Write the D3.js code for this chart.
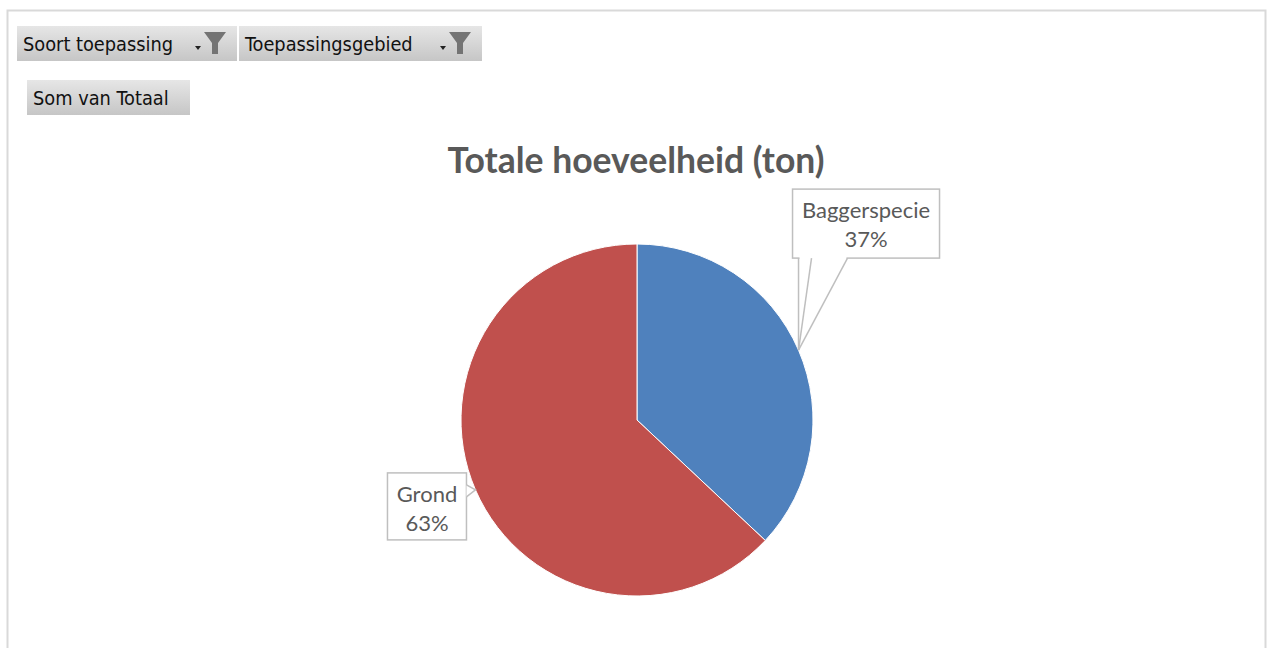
<!DOCTYPE html>
<html><head><meta charset="utf-8">
<script src="https://cdn.jsdelivr.net/npm/d3@7"></script>
<style>body{margin:0;background:#fff;} svg{display:block;}</style>
</head><body>
<svg id="c" width="1268" height="648"></svg>
<script>
const categories = ["Baggerspecie", "Grond"];
const values = [37, 63];
const colors = ["#4F81BD", "#C0504D"];
const title = "Totale hoeveelheid (ton)";
const filterButtons = ["Soort toepassing", "Toepassingsgebied"];
const valueButton = "Som van Totaal";

const svg = d3.select("#c");
const defs = svg.append("defs");
const g1 = defs.append("linearGradient").attr("id","btn").attr("x1",0).attr("y1",0).attr("x2",0).attr("y2",1);
g1.append("stop").attr("offset","0%").attr("stop-color","#e6e6e6");
g1.append("stop").attr("offset","100%").attr("stop-color","#c6c6c6");

// outer frame
svg.append("rect").attr("x",7.5).attr("y",10.5).attr("width",1258).attr("height",660)
  .attr("fill","#fff").attr("stroke","#d9d9d9").attr("stroke-width",2);

// filter buttons
const btnFont = "'DejaVu Sans Condensed', 'DejaVu Sans', sans-serif";
const fb = [{x:17,w:220},{x:239,w:243}];
filterButtons.forEach((t,i)=>{
  const g = svg.append("g").attr("transform",`translate(${fb[i].x},26)`);
  g.append("rect").attr("width",fb[i].w).attr("height",35).attr("fill","url(#btn)");
  g.append("text").attr("x",6).attr("y",25).attr("font-family",btnFont).attr("font-size",19.8)
    .attr("fill","#111").text(t);
  const fx = fb[i].w - 33;
  // small dropdown triangle
  g.append("path").attr("d",`M${fx-9},20 L${fx-3},20 L${fx-6},24 Z`).attr("fill","#222");
  // funnel
  g.append("path").attr("d",`M${fx},6 L${fx+22},6 L${fx+14},17 L${fx+14},28 L${fx+8},28 L${fx+8},17 Z`)
    .attr("fill","#747474");
});
{
  const g = svg.append("g").attr("transform","translate(27,80)");
  g.append("rect").attr("width",163).attr("height",35).attr("fill","url(#btn)");
  g.append("text").attr("x",6).attr("y",25).attr("font-family",btnFont).attr("font-size",19.8)
    .attr("fill","#111").text(valueButton);
}

// title
svg.append("text").attr("x",636).attr("y",173).attr("text-anchor","middle")
  .attr("font-family","Lato, 'Open Sans', sans-serif").attr("font-weight","bold")
  .attr("font-size",35.5).attr("fill","#595959").text(title);

// pie
const cx = 637, cy = 420, r = 176;
const pie = d3.pie().sort(null).value(d=>d.v);
const data = pie(categories.map((c,i)=>({c, v: values[i]})));
const arc = d3.arc().innerRadius(0).outerRadius(r);
const pg = svg.append("g").attr("transform",`translate(${cx},${cy})`);
pg.selectAll("path").data(data).join("path")
  .attr("d",arc).attr("fill",(d,i)=>colors[i]).attr("stroke","#fff").attr("stroke-width",1);

// callouts
const labFont = "Lato, 'Open Sans', sans-serif";
const total = d3.sum(values);
function tipOf(d){ const a=(d.startAngle+d.endAngle)/2; return [cx + r*Math.sin(a), cy - r*Math.cos(a)]; }
const callouts = [
  {dx:-6, dy:-161, w:147, h:69, leaders:[6,19,55]},
  {dx:-88, dy:-17, w:79, h:67, side:true}
];
const sc = "#bfbfbf";
data.forEach((d,i)=>{
  const [tx,ty] = tipOf(d);
  const c = callouts[i];
  const bx = tx + c.dx, by = ty + c.dy;
  const g = svg.append("g");
  g.append("rect").attr("x",bx).attr("y",by).attr("width",c.w).attr("height",c.h)
    .attr("fill","#fff").attr("stroke",sc).attr("stroke-width",1.5);
  if (c.leaders) {
    const L = c.leaders;
    // gap in bottom edge for the wedge base
    g.append("line").attr("x1",bx+L[0]+1).attr("y1",by+c.h).attr("x2",bx+L[2]-1).attr("y2",by+c.h)
      .attr("stroke","#fff").attr("stroke-width",2.5);
    L.forEach(o=>{
      g.append("line").attr("x1",bx+o).attr("y1",by+c.h).attr("x2",tx).attr("y2",ty)
        .attr("stroke",sc).attr("stroke-width",1.5);
    });
  }
  if (c.side) {
    g.append("path").attr("d",`M${bx+c.w},${ty-5} L${tx},${ty} L${bx+c.w},${ty+7}`)
      .attr("fill","#fff").attr("stroke",sc).attr("stroke-width",1.5);
  }
  const pct = Math.round(values[i]/total*100) + "%";
  g.append("text").attr("x",bx+c.w/2).attr("y",by+29).attr("text-anchor","middle")
    .attr("font-family",labFont).attr("font-size",22).attr("fill","#595959").text(categories[i]);
  g.append("text").attr("x",bx+c.w/2).attr("y",by+58).attr("text-anchor","middle")
    .attr("font-family",labFont).attr("font-size",22).attr("fill","#595959").text(pct);
});
</script>
</body></html>
